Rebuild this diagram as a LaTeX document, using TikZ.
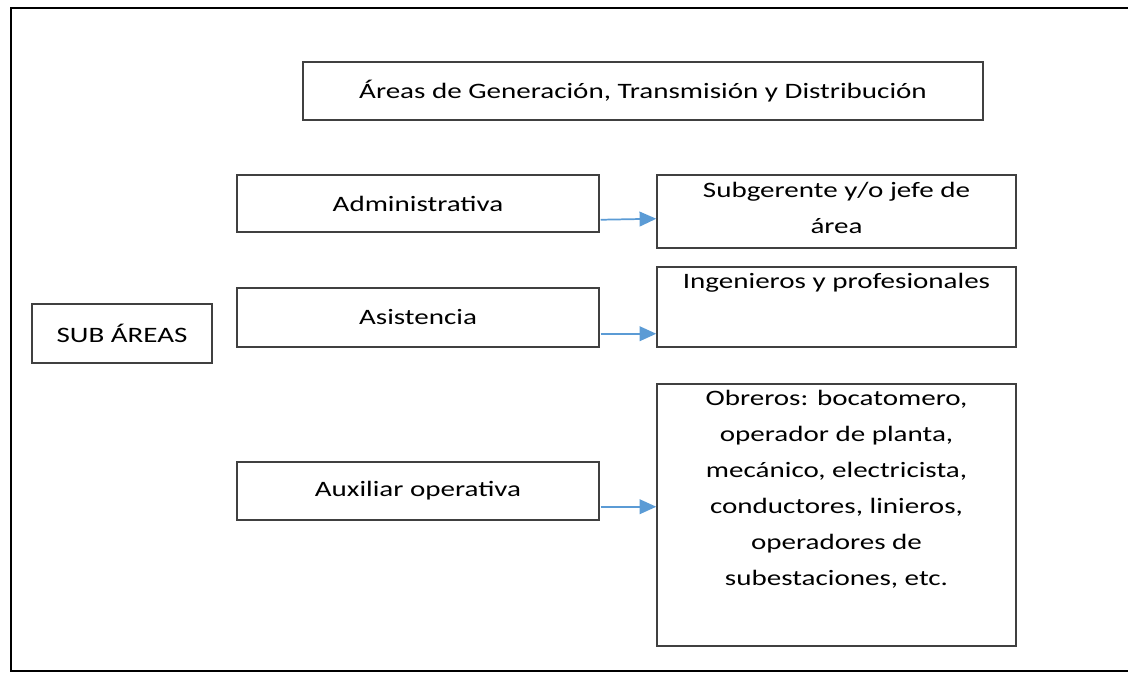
\documentclass[tikz,border=0pt]{standalone}
\usepackage{fontspec}
\setmainfont{Carlito}[FakeStretch=1.32]
\usetikzlibrary{arrows.meta,fit}
\definecolor{boxline}{HTML}{404040}
\definecolor{arrowblue}{HTML}{5B9BD5}
\begin{document}
\begin{tikzpicture}[x=0.75pt,y=-0.75pt,
  box/.style={draw=boxline,line width=1.1pt,inner sep=0pt},
  lbl/.style={font=\fontsize{16.5}{27}\selectfont,align=center,inner sep=0pt},
  conn/.style={draw=arrowblue,line width=1.3pt,-{Triangle[length=12.5pt,width=11pt]}}]
\useasboundingbox (0,0) rectangle (1128,672);
\draw[line width=2pt] (1135,8) -- (11,8) -- (11,671) -- (1135,671);
% boxes
\node[box,fit={(303,62) (983,120)}] (title) {};
\node[box,fit={(237,175) (599,232)}] (adm) {};
\node[box,fit={(657,175) (1016,248)}] (sub) {};
\node[box,fit={(237,288) (599,347)}] (asi) {};
\node[box,fit={(657,267) (1016,347)}] (ing) {};
\node[box,fit={(32,304) (212,363)}] (sa) {};
\node[box,fit={(237,462) (599,520)}] (aux) {};
\node[box,fit={(657,384) (1016,646)}] (obr) {};
% texts
\node[lbl] (titlet) at (title.center) {Áreas de Generación, Transmisión y Distribución};
\node[lbl] (admt) at (adm.center) {Administrativa};
\node[lbl] (subt) at ([yshift=3pt]sub.center) {Subgerente y/o jefe de\\área};
\node[lbl] (asit) at (asi.center) {Asistencia};
\node[lbl,anchor=north] (ingt) at ([yshift=-5pt]ing.north) {Ingenieros y profesionales};
\node[lbl] (sat) at (sa.center) {SUB ÁREAS};
\node[lbl] (auxt) at (aux.center) {Auxiliar operativa};
\node[lbl,anchor=north] (obrt) at ([yshift=-5pt]obr.north) {Obreros: bocatomero,\\operador de planta,\\mecánico, electricista,\\conductores, linieros,\\operadores de\\subestaciones, etc.};
% connectors
\draw[conn] ([shift={(1,-13)}]adm.south east) -- ([shift={(0,-30)}]sub.south west);
\draw[conn] ([shift={(1,-14)}]asi.south east) -- ([shift={(0,-14)}]ing.south west);
\coordinate (auxout) at ([shift={(1,-14)}]aux.south east);
\draw[conn] (auxout) -- (auxout -| obr.west);
\end{tikzpicture}
\end{document}
